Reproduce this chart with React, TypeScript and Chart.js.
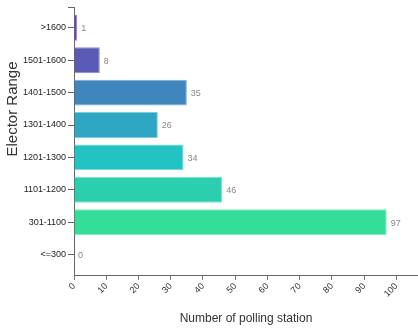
import React, { useEffect, useRef } from "react";
import { Chart, registerables } from "chart.js";

Chart.register(...registerables);

const categories = [">1600", "1501-1600", "1401-1500", "1301-1400", "1201-1300", "1101-1200", "301-1100", "<=300"];
const values = [1, 8, 35, 26, 34, 46, 97, 0];
const barColors = ["#6d41be", "#5a5bb5", "#3f86bc", "#2ea6c4", "#23c2c3", "#2ccfad", "#34dd98"];
const borderColors = ["#9a7ad6", "#8a8bd0", "#7eafd6", "#7ccbe0", "#7ddcdc", "#80e2cf", "#86ecbf"];
const xTicks = [0, 10, 20, 30, 40, 50, 60, 70, 80, 90, 100];
const yTitle = "Elector Range";

const dataLabels = {
  id: "dataLabels",
  afterDatasetsDraw(chart: any) {
    const ctx = chart.ctx;
    const meta = chart.getDatasetMeta(0);
    ctx.save();
    ctx.font = "9px 'Liberation Sans', Arial, sans-serif";
    ctx.fillStyle = "#888";
    ctx.textAlign = "left";
    ctx.textBaseline = "middle";
    meta.data.forEach((bar: any, i: number) => {
      ctx.fillText(String(values[i]), bar.x + 4, bar.y + 1);
    });
    ctx.restore();
  },
};

const yTitlePlugin = {
  id: "yTitlePlugin",
  afterDraw(chart: any) {
    const ctx = chart.ctx;
    const area = chart.chartArea;
    ctx.save();
    // outer tick at the top end of the y axis
    ctx.strokeStyle = "#666";
    ctx.lineWidth = 1;
    ctx.beginPath();
    ctx.moveTo(area.left - 6, Math.round(area.top) + 0.5);
    ctx.lineTo(area.left, Math.round(area.top) + 0.5);
    ctx.stroke();
    ctx.translate(13, 109);
    ctx.rotate(-Math.PI / 2);
    ctx.font = "15px 'Liberation Sans', Arial, sans-serif";
    ctx.fillStyle = "#333";
    ctx.textAlign = "center";
    ctx.textBaseline = "middle";
    ctx.fillText(yTitle, 0, 0);
    ctx.restore();
  },
};

export default function App() {
  const ref = useRef<HTMLCanvasElement>(null);
  useEffect(() => {
    document.body.style.margin = "0";
    const chart = new Chart(ref.current!, {
      type: "bar",
      data: {
        datasets: [
          {
            data: values.map((v, i) => ({ x: v, y: i })),
            backgroundColor: categories.map((_, i) => barColors[i % barColors.length]),
            borderColor: categories.map((_, i) => borderColors[i % borderColors.length]),
            borderWidth: 1,
            barPercentage: 0.8,
            categoryPercentage: 1,
          },
        ],
      },
      plugins: [dataLabels, yTitlePlugin],
      options: {
        indexAxis: "y",
        animation: false,
        responsive: true,
        maintainAspectRatio: false,
        layout: { padding: { top: 5, right: 0, left: 0, bottom: 0 } },
        plugins: { legend: { display: false }, tooltip: { enabled: false } },
        scales: {
          x: {
            type: "linear",
            min: 0,
            max: 106.7,
            bounds: "data",
            afterFit: (s: any) => {
              s.height = 55;
            },
            afterBuildTicks: (s: any) => {
              s.ticks = xTicks.map((v) => ({ value: v }));
            },
            ticks: {
              minRotation: 45,
              maxRotation: 45,
              padding: 1,
              color: "#333",
              font: { size: 9, family: "'Liberation Sans', Arial, sans-serif" },
            },
            grid: { drawOnChartArea: false, drawTicks: true, tickLength: 5, color: "#777" },
            border: { display: true, color: "#666", width: 1 },
            title: {
              display: true,
              text: "Number of polling station",
              color: "#333",
              font: { size: 12, family: "'Liberation Sans', Arial, sans-serif" },
            },
          },
          y: {
            type: "linear",
            reverse: true,
            offset: false,
            bounds: "data",
            min: -0.63,
            max: 7.63,
            afterFit: (s: any) => {
              s.width = 74;
            },
            afterBuildTicks: (s: any) => {
              s.ticks = categories.map((_, i) => ({ value: i }));
            },
            ticks: {
              callback: (v: any) => categories[v as number],
              padding: 2,
              color: "#222",
              font: { size: 9, family: "'Liberation Sans', Arial, sans-serif" },
            },
            grid: { offset: false, drawOnChartArea: false, drawTicks: true, tickLength: 6, color: "#666" },
            border: { display: true, color: "#666", width: 1 },
            title: { display: false },
          },
        },
      },
    } as any);
    return () => chart.destroy();
  }, []);
  return (
    <div style={{ width: 418, height: 330, position: "relative" }}>
      <canvas ref={ref} />
    </div>
  );
}
